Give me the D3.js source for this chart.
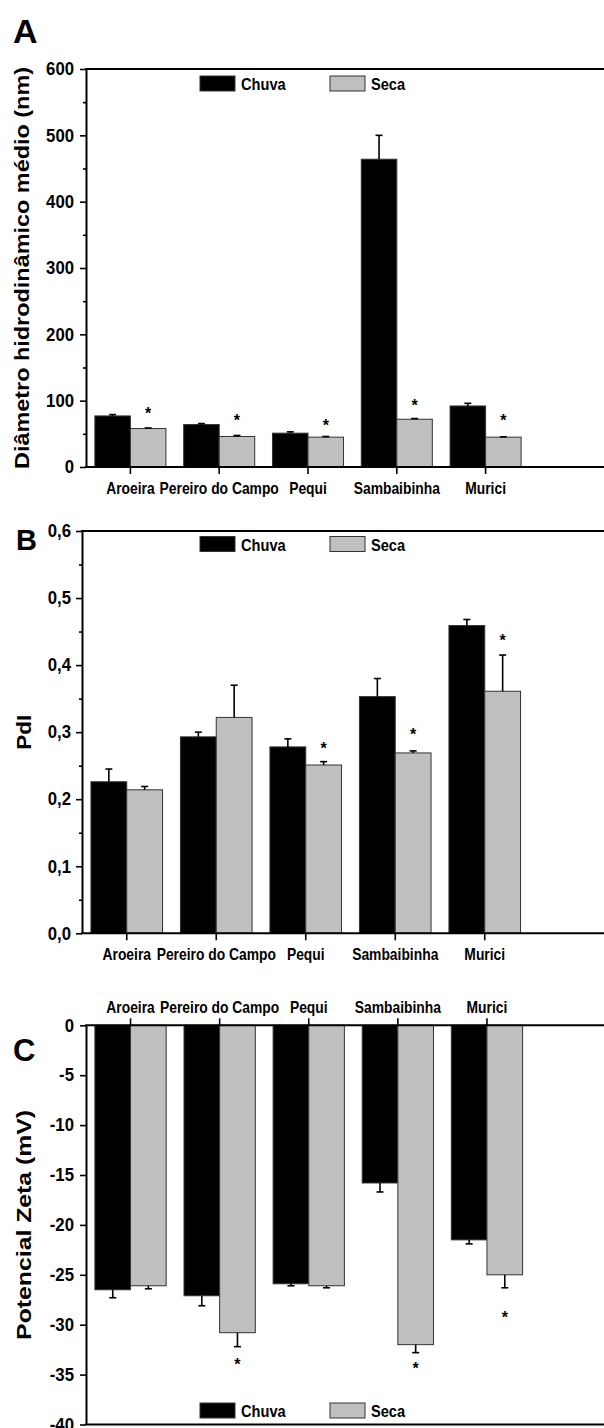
<!DOCTYPE html>
<html>
<head>
<meta charset="utf-8">
<script src="https://cdn.jsdelivr.net/npm/d3@7"></script>
<style>
  body { margin: 0; background: #fff; }
  svg text { font-family: "Liberation Sans", Arial, sans-serif; font-weight: bold; fill: #000; }
</style>
</head>
<body>
<div id="chart"></div>
<script>
// page size
const width = 604;
const height = 1428;

// categories and series
const categories = ["Aroeira", "Pereiro do Campo", "Pequi", "Sambaibinha", "Murici"];
const seriesNames = ["Chuva", "Seca"];
const seriesColors = ["#000000", "#c0c0c0"];

// A - diametro hidrodinamico medio (nm)
const diamChuva = [77, 64, 51, 464, 92];
const diamChuvaErr = [2, 1.5, 2, 36, 4];
const diamSeca = [58, 46, 45, 72, 45];
const diamSecaErr = [0.8, 1.5, 1, 1, 0.5];
const diamStars = [86, 75, 68, 98, 75];
const diamTicks = [0, 100, 200, 300, 400, 500, 600];

// B - PdI
const pdiChuva = [0.226, 0.293, 0.278, 0.353, 0.459];
const pdiChuvaErr = [0.019, 0.007, 0.012, 0.027, 0.009];
const pdiSeca = [0.214, 0.322, 0.251, 0.269, 0.361];
const pdiSecaErr = [0.005, 0.048, 0.005, 0.003, 0.054];
const pdiStars = [null, null, 0.281, 0.302, 0.442];
const pdiTicks = [0, 0.1, 0.2, 0.3, 0.4, 0.5, 0.6];

// C - potencial zeta (mV)
const zetaChuva = [-26.5, -27.1, -25.9, -15.8, -21.5];
const zetaChuvaErr = [0.8, 1.0, 0.2, 0.9, 0.4];
const zetaSeca = [-26.1, -30.8, -26.1, -32.0, -25.0];
const zetaSecaErr = [0.3, 1.4, 0.2, 0.8, 1.3];
const zetaStars = [null, -33.6, null, -34.0, -28.9];
const zetaTicks = [0, -5, -10, -15, -20, -25, -30, -35, -40];

const svg = d3.select("#chart")
  .append("svg")
  .attr("width", width)
  .attr("height", height);

// squeeze text horizontally (the figure looks stretched vertically)
function squeeze(sel, sx) {
  sel.each(function () {
    const t = d3.select(this);
    const x = +t.attr("x") || 0;
    t.attr("x", 0).attr("transform", `translate(${x},0) scale(${sx},1)`);
  });
}

function drawPanel(p) {
  const g = svg.append("g");

  const x = d3.scaleBand()
    .domain(categories)
    .range([p.left, p.left + categories.length * p.step])
    .paddingInner(0.2)
    .paddingOuter(0.1);

  const xs = d3.scaleBand()
    .domain(seriesNames)
    .range([0, x.bandwidth()]);

  const y = d3.scaleLinear()
    .domain(p.domain)
    .range([p.bottom, p.top]);

  // rows: one per bar
  const rows = [];
  categories.forEach((c, i) => {
    rows.push({ cat: c, s: "Chuva", v: p.chuva[i], e: p.chuvaErr[i], star: null });
    rows.push({ cat: c, s: "Seca", v: p.seca[i], e: p.secaErr[i], star: p.stars[i] });
  });

  // bars
  g.selectAll(".bar")
    .data(rows)
    .enter()
    .append("rect")
    .attr("x", d => x(d.cat) + xs(d.s))
    .attr("y", d => Math.min(y(0), y(d.v)))
    .attr("width", xs.bandwidth())
    .attr("height", d => Math.abs(y(d.v) - y(0)))
    .attr("fill", d => seriesColors[seriesNames.indexOf(d.s)])
    .attr("stroke", "#333")
    .attr("stroke-width", 1);

  // error bars (one-sided, away from zero)
  const err = g.selectAll(".err")
    .data(rows)
    .enter()
    .append("g")
    .attr("transform", d => `translate(${x(d.cat) + xs(d.s) + xs.bandwidth() / 2},0)`);

  err.append("line")
    .attr("y1", d => y(d.v))
    .attr("y2", d => y(d.v + Math.sign(d.v) * d.e))
    .attr("stroke", "#000")
    .attr("stroke-width", 1.6);

  err.append("line")
    .attr("x1", -3.5)
    .attr("x2", 3.5)
    .attr("y1", d => y(d.v + Math.sign(d.v) * d.e))
    .attr("y2", d => y(d.v + Math.sign(d.v) * d.e))
    .attr("stroke", "#000")
    .attr("stroke-width", 1.6);

  // significance asterisks
  g.selectAll(".star")
    .data(rows.filter(d => d.star !== null))
    .enter()
    .append("text")
    .attr("x", d => x(d.cat) + xs(d.s) + xs.bandwidth() / 2)
    .attr("y", d => y(d.star) + 9)
    .attr("text-anchor", "middle")
    .attr("font-size", 16)
    .text("*");

  // y axis with major + minor ticks
  const yAxis = g.append("g")
    .attr("transform", `translate(${p.left},0)`)
    .call(d3.axisLeft(y)
      .tickValues(p.ticks)
      .tickSize(6)
      .tickSizeOuter(0)
      .tickPadding(p.tickPad)
      .tickFormat(p.fmt));
  yAxis.select(".domain").attr("stroke-width", 2);
  yAxis.selectAll(".tick line").attr("stroke-width", 1.6);
  yAxis.selectAll("text").attr("font-size", 18).attr("font-family", null);
  squeeze(yAxis.selectAll("text"), 0.93);

  if (p.minor.length) {
    const minorAxis = g.append("g")
      .attr("transform", `translate(${p.left},0)`)
      .call(d3.axisLeft(y).tickValues(p.minor).tickSize(3).tickFormat(""));
    minorAxis.select(".domain").remove();
    minorAxis.selectAll(".tick line").attr("stroke-width", 1.6);
  }

  // category axis
  const catAxis = g.append("g")
    .attr("transform", `translate(0,${y(0)})`)
    .call((p.catTop ? d3.axisTop(x) : d3.axisBottom(x))
      .tickSize(7)
      .tickSizeOuter(0)
      .tickPadding(p.catTop ? 5 : 8));
  catAxis.select(".domain").remove();
  catAxis.selectAll(".tick line").attr("stroke-width", 1.6);
  catAxis.selectAll("text").attr("font-size", 16.5).attr("font-family", null);
  squeeze(catAxis.selectAll("text"), 0.84);

  // frame lines running off the right edge
  [y.range()[0], y.range()[1]].forEach(yy => {
    g.append("line")
      .attr("x1", p.left - 1)
      .attr("x2", width + 10)
      .attr("y1", yy)
      .attr("y2", yy)
      .attr("stroke", "#000")
      .attr("stroke-width", 2);
  });

  // legend
  const leg = g.append("g").attr("transform", `translate(0,${p.legendY})`);
  seriesNames.forEach((s, i) => {
    const lx = [200, 330][i];
    leg.append("rect")
      .attr("x", lx)
      .attr("y", 0)
      .attr("width", 35)
      .attr("height", 15)
      .attr("fill", seriesColors[i])
      .attr("stroke", "#333")
      .attr("stroke-width", 1);
    const t = leg.append("text")
      .attr("x", lx + 41)
      .attr("y", 14)
      .attr("font-size", 17)
      .text(s);
    squeeze(t, 0.86);
  });

  // y title
  svg.append("text")
    .attr("transform", `translate(${p.titleX},${(p.top + p.bottom) / 2}) rotate(-90)`)
    .attr("text-anchor", "middle")
    .attr("font-size", 20)
    .attr("textLength", p.titleLen)
    .attr("lengthAdjust", "spacingAndGlyphs")
    .text(p.title);

  // panel letter
  svg.append("text")
    .attr("x", p.letterX)
    .attr("y", p.letterY)
    .attr("font-size", p.letterSize)
    .text(p.letter);
}

const commaFmt = d => d.toFixed(1).replace(".", ",");

drawPanel({
  letter: "A", letterX: 13, letterY: 43, letterSize: 34,
  title: "Diâmetro hidrodinâmico médio (nm)", titleX: 29, titleLen: 402,
  left: 86, step: 88.8, top: 69, bottom: 467,
  domain: [0, 600], ticks: diamTicks, minor: [50, 150, 250, 350, 450, 550],
  fmt: d3.format("d"), tickPad: 6,
  chuva: diamChuva, chuvaErr: diamChuvaErr, seca: diamSeca, secaErr: diamSecaErr, stars: diamStars,
  catTop: false, legendY: 76
});

drawPanel({
  letter: "B", letterX: 16, letterY: 550, letterSize: 29,
  title: "PdI", titleX: 30.5, titleLen: 35,
  left: 82, step: 89.5, top: 531, bottom: 933.3,
  domain: [0, 0.6], ticks: pdiTicks, minor: [0.05, 0.15, 0.25, 0.35, 0.45, 0.55],
  fmt: commaFmt, tickPad: 5,
  chuva: pdiChuva, chuvaErr: pdiChuvaErr, seca: pdiSeca, secaErr: pdiSecaErr, stars: pdiStars,
  catTop: false, legendY: 536.5
});

drawPanel({
  letter: "C", letterX: 13, letterY: 1061, letterSize: 31,
  title: "Potencial Zeta (mV)", titleX: 31, titleLen: 230,
  left: 86, step: 89.1, top: 1025.3, bottom: 1424.5,
  domain: [-40, 0], ticks: zetaTicks, minor: [],
  fmt: d => String(d), tickPad: 6,
  chuva: zetaChuva, chuvaErr: zetaChuvaErr, seca: zetaSeca, secaErr: zetaSecaErr, stars: zetaStars,
  catTop: true, legendY: 1403
});
</script>
</body>
</html>
